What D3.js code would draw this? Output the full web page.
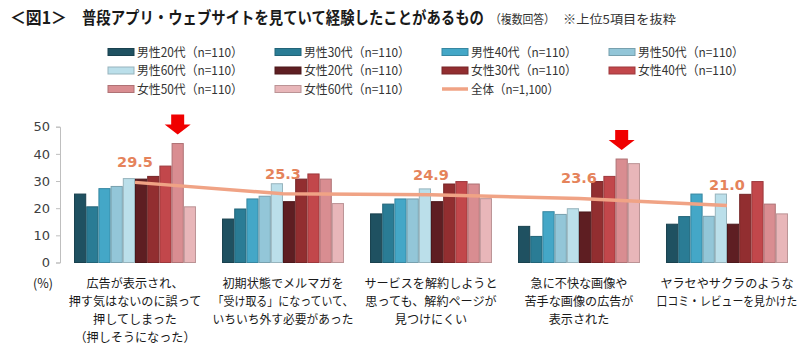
<!DOCTYPE html>
<html><head><meta charset="utf-8">
<script src="https://cdn.jsdelivr.net/npm/d3@7/dist/d3.min.js"></script>
<style>body{margin:0;background:#fff}svg{display:block}</style>
</head><body>
<svg id="c" width="800" height="348"></svg>
<script>
const categories = [
  "広告が表示され、\n押す気はないのに誤って\n押してしまった\n（押しそうになった）",
  "初期状態でメルマガを\n「受け取る」になっていて、\nいちいち外す必要があった",
  "サービスを解約しようと\n思っても、解約ページが\n見つけにくい",
  "急に不快な画像や\n苦手な画像の広告が\n表示された",
  "ヤラセやサクラのような\n口コミ・レビューを見かけた"
];
const seriesNames = ["男性20代","男性30代","男性40代","男性50代","男性60代","女性20代","女性30代","女性40代","女性50代","女性60代"];
const seriesN = "（n=110）";
const totalName = "全体（n=1,100）";
const m20 = [25.2, 16.0, 17.9, 13.3, 14.1];
const m30 = [20.5, 19.7, 21.5, 9.6, 16.9];
const m40 = [27.2, 23.4, 23.4, 18.7, 25.2];
const m50 = [28.0, 24.4, 23.4, 17.7, 17.0];
const m60 = [30.9, 29.0, 27.1, 19.8, 25.2];
const f20 = [30.7, 22.4, 22.4, 18.6, 14.1];
const f30 = [31.7, 30.7, 28.9, 29.8, 25.1];
const f40 = [35.5, 32.6, 29.8, 31.7, 29.8];
const f50 = [43.8, 30.7, 28.9, 38.1, 21.5];
const f60 = [20.5, 21.7, 23.5, 36.4, 17.9];
const total = [29.5, 25.3, 24.9, 23.6, 21.0];
const yTicks = [0, 10, 20, 30, 40, 50];
const highlighted = [0, 3]; // categories with arrow on 女性50代
const colors = ["#1f5161","#2a7c95","#44a7c7","#93c6d8","#bbdfea","#5e1e22","#922e30","#c2474b","#d98d91","#e8b6b9"];
const lineColor = "#f0a385";
const labelColor = "#e5835b";

const values = [m20,m30,m40,m50,m60,f20,f30,f40,f50,f60];
const svg = d3.select("#c");
const JP = "'Noto Sans CJK JP','Noto Sans',sans-serif";

// Draw text horizontally scaled (condensed) so it spans a target width.
function condensed(parent, {x, y, text, size, weight="normal", fill="#1a1a1a", anchor="start", width}) {
  const g = parent.append("g").attr("transform", `translate(${x},${y})`);
  const t = g.append("text").attr("x",0).attr("y",0).attr("font-family",JP).attr("font-size",size)
    .attr("font-weight",weight).attr("fill",fill).attr("text-anchor",anchor).text(text);
  const l = t.node().getComputedTextLength();
  const w = typeof width === "function" ? width(l) : width;
  g.attr("transform", `translate(${x},${y}) scale(${w/l},1)`);
  return t;
}

// Title
condensed(svg, {x:10, y:24, text:"＜図1＞", size:16.5, weight:"bold", width:57});
condensed(svg, {x:82, y:24, text:"普段アプリ・ウェブサイトを見ていて経験したことがあるもの", size:16.5, weight:"bold", width:402});
condensed(svg, {x:490, y:24, text:"（複数回答）", size:12, fill:"#333", width:65});
condensed(svg, {x:563, y:24, text:"※上位5項目を抜粋", size:12, fill:"#333", width:113});

// Scales
const x = d3.scaleBand().domain(categories).range([61, 801]).paddingInner(0.176).paddingOuter(0.088);
const xs = d3.scaleBand().domain(seriesNames).range([0, x.bandwidth()]);
const y = d3.scaleLinear().domain([0, 50]).range([262.5, 126.7]);

// Y axis
const ya = svg.append("g").attr("transform","translate(60,0)")
  .call(d3.axisLeft(y).tickValues(yTicks).tickSize(4).tickPadding(6));
ya.select(".domain").attr("stroke","#bfbfbf");
ya.selectAll(".tick line").attr("stroke","#bfbfbf");
ya.selectAll(".tick text").attr("font-family","'DejaVu Sans',sans-serif").attr("font-size",13).attr("fill","#404040");

// Bars
const groups = svg.append("g").selectAll("g").data(categories).join("g")
  .attr("transform", d => `translate(${x(d)},0)`);
groups.selectAll("rect").data((d,i) => seriesNames.map((s,j) => ({s, j, v: values[j][i]}))).join("rect")
  .attr("x", d => xs(d.s)+0.5).attr("width", xs.bandwidth()-1)
  .attr("y", d => y(d.v)).attr("height", d => y(0)-y(d.v))
  .attr("fill", d => colors[d.j])
  .attr("stroke", d => d3.color(colors[d.j]).darker(0.6))
  .attr("stroke-width", 1);

// Total line
const line = d3.line().x((d,i) => x(categories[i]) + x.bandwidth()/2).y(d => y(d));
svg.append("path").datum(total).attr("d", line).attr("fill","none")
  .attr("stroke", lineColor).attr("stroke-width", 3.5);
svg.append("g").selectAll("text").data(total).join("text")
  .attr("x", (d,i) => x(categories[i]) + x.bandwidth()/2)
  .attr("y", d => y(d) - 15)
  .attr("text-anchor","middle").attr("font-family","'DejaVu Sans',sans-serif")
  .attr("font-weight","bold").attr("font-size",14.5).attr("fill",labelColor)
  .text(d => d.toFixed(1));

// Arrows
svg.append("g").selectAll("path").data(highlighted).join("path")
  .attr("d", i => {
    const cx = x(categories[i]) + xs("女性50代") + xs.bandwidth()/2;
    const tip = y(f50[i]) - 9;
    const top = tip - 20;
    const mid = tip - 10;
    return `M${cx-6.5},${top}H${cx+6.5}V${mid}H${cx+13}L${cx},${tip}L${cx-13},${mid}H${cx-6.5}Z`;
  })
  .attr("fill","#f00000");

// X labels (one condensed text per line)
const xlG = svg.append("g");
categories.forEach(c => c.split("\n").forEach((ln,k) => {
  condensed(xlG, {x: x(c)+x.bandwidth()/2, y: 288 + k*18, text: ln, size: 12.5, anchor: "middle",
    width: l => Math.min(l*0.97, 141)});
}));
svg.append("text").attr("x",33).attr("y",288).attr("font-family",JP).attr("font-size",12.5)
  .attr("fill","#1a1a1a").text("(%)");

// Legend
const legendItems = seriesNames.map((s,j) => ({label: s + seriesN, color: colors[j], type:"rect"}))
  .concat([{label: totalName, color: lineColor, type:"line"}]);
const lg = svg.append("g").selectAll("g").data(legendItems).join("g")
  .attr("transform",(d,i) => `translate(${108 + (i%4)*167},${52 + Math.floor(i/4)*18.5})`);
lg.filter(d => d.type==="rect").append("rect").attr("x",0).attr("y",-3.5).attr("width",26).attr("height",7)
  .attr("fill",d=>d.color).attr("stroke",d=>d3.color(d.color).darker(0.6)).attr("stroke-width",1);
lg.filter(d => d.type==="line").append("line").attr("x1",0).attr("x2",26).attr("y1",0).attr("y2",0)
  .attr("stroke",d=>d.color).attr("stroke-width",3.5);
lg.each(function(d){
  condensed(d3.select(this), {x:29, y:4.5, text:d.label, size:12.5, fill:"#333", width: d.type==="line" ? 88 : 106});
});
</script>
</body></html>
